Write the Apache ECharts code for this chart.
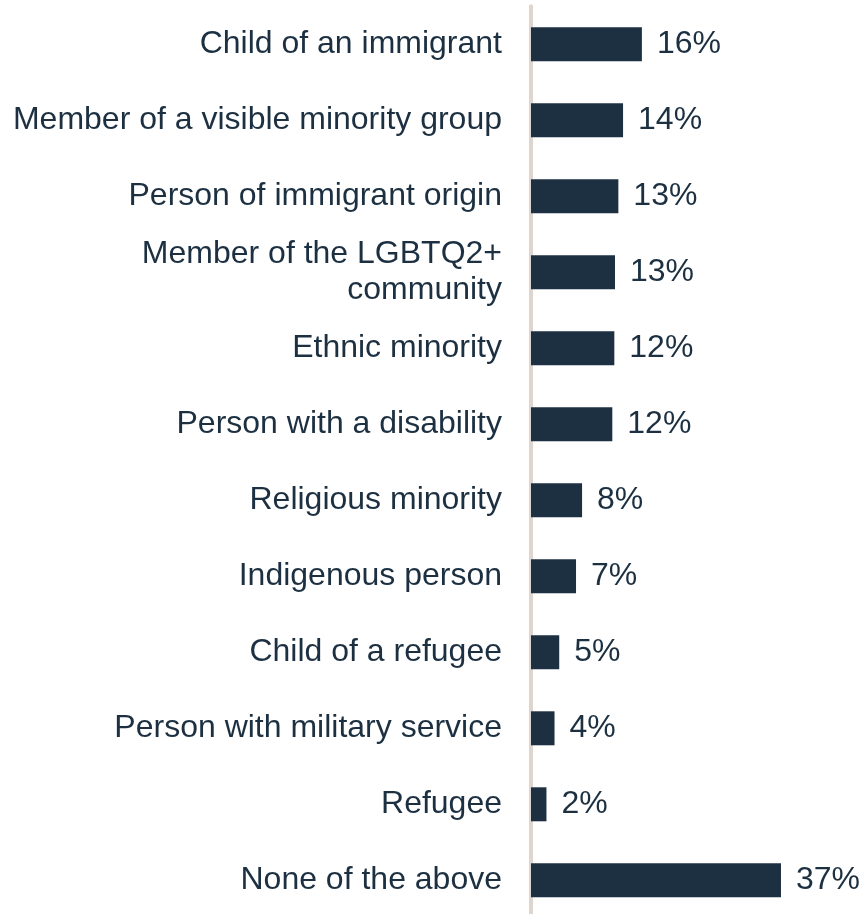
<!DOCTYPE html>
<html>
<head>
<meta charset="utf-8">
<style>
  html, body { margin: 0; padding: 0; background: #ffffff; }
  #chart { width: 861px; height: 914px; }
</style>
<script src="https://cdn.jsdelivr.net/npm/echarts@6/dist/echarts.min.js"></script>
</head>
<body>
<div id="chart"></div>
<script>
const categories = [
  'Child of an immigrant',
  'Member of a visible minority group',
  'Person of immigrant origin',
  'Member of the LGBTQ2+\ncommunity',
  'Ethnic minority',
  'Person with a disability',
  'Religious minority',
  'Indigenous person',
  'Child of a refugee',
  'Person with military service',
  'Refugee',
  'None of the above'
];
// bar lengths (percent)
const values = [16.5, 13.7, 13.0, 12.5, 12.4, 12.1, 7.6, 6.7, 4.2, 3.5, 2.3, 37.2];
// value labels as printed on the chart
const valueLabels = ['16%', '14%', '13%', '13%', '12%', '12%', '8%', '7%', '5%', '4%', '2%', '37%'];

const textColor = '#1c3041';
const barColor = '#1c3041';
const font = '"Liberation Sans", Arial, Helvetica, sans-serif';

const chart = echarts.init(document.getElementById('chart'), null, { renderer: 'canvas' });
chart.setOption({
  animation: false,
  backgroundColor: '#ffffff',
  grid: { left: 531, width: 302.4, top: 6.3, height: 912, containLabel: false, outerBoundsMode: 'none' },
  xAxis: {
    type: 'value', min: 0, max: 45,
    show: false
  },
  yAxis: {
    type: 'category',
    inverse: true,
    data: categories,
    offset: 2,
    axisTick: { show: false },
    axisLine: { show: true, lineStyle: { color: '#ded5cf', width: 4 } },
    axisLabel: {
      margin: 27,
      fontSize: 32,
      lineHeight: 36,
      color: textColor,
      fontFamily: font,
      align: 'right'
    },
    splitLine: { show: false }
  },
  series: [{
    type: 'bar',
    data: values,
    barWidth: 34,
    itemStyle: { color: barColor },
    label: {
      show: true,
      position: 'right',
      distance: 15,
      fontSize: 32,
      color: textColor,
      fontFamily: font,
      formatter: p => valueLabels[p.dataIndex]
    }
  }]
});
</script>
</body>
</html>
